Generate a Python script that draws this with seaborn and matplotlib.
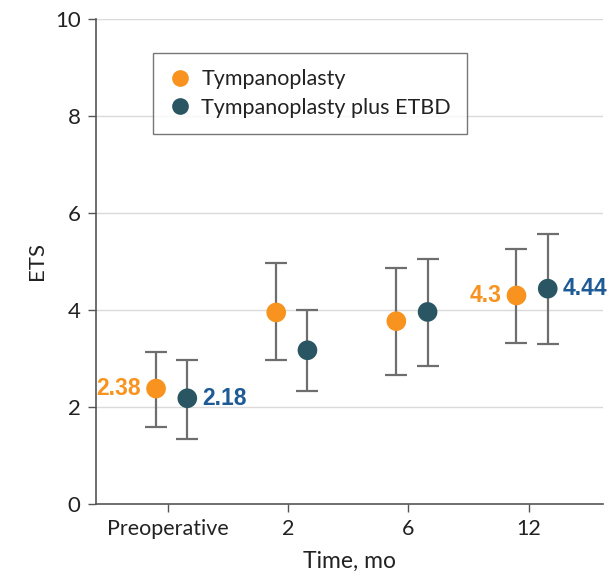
import numpy as np
import pandas as pd
import matplotlib
matplotlib.use("Agg")
import matplotlib.pyplot as plt
import seaborn as sns

# Data
timepoints = ["Preoperative", "2", "6", "12"]
groups = ["Tympanoplasty", "Tympanoplasty plus ETBD"]
ets_tymp = [2.38, 3.95, 3.77, 4.30]
ets_tymp_low = [1.59, 2.97, 2.67, 3.32]
ets_tymp_high = [3.14, 4.97, 4.86, 5.26]
ets_etbd = [2.18, 3.17, 3.96, 4.44]
ets_etbd_low = [1.34, 2.32, 2.85, 3.30]
ets_etbd_high = [2.97, 4.00, 5.05, 5.57]
labelled_points = {"Tympanoplasty": [0, 3], "Tympanoplasty plus ETBD": [0, 3]}

colors = {"Tympanoplasty": "#F7931E", "Tympanoplasty plus ETBD": "#2A5563"}
text_colors = {"Tympanoplasty": "#F7931E", "Tympanoplasty plus ETBD": "#1D5A96"}
offsets = {"Tympanoplasty": -0.10, "Tympanoplasty plus ETBD": 0.16}

rows = []
for g, vals, lo, hi in [(groups[0], ets_tymp, ets_tymp_low, ets_tymp_high),
                        (groups[1], ets_etbd, ets_etbd_low, ets_etbd_high)]:
    for i, t in enumerate(timepoints):
        rows.append({"group": g, "time": t, "idx": i, "x": i + offsets[g],
                     "ets": vals[i], "low": lo[i], "high": hi[i]})
df = pd.DataFrame(rows)

sns.set_style("white")
plt.rcParams["font.family"] = ["Lato", "DejaVu Sans"]

fig = plt.figure(figsize=(6.12, 5.8), dpi=100)
ax = fig.add_axes([96 / 612, 1 - 504 / 580, (603 - 96) / 612, (504 - 19) / 580])

ax.set_ylim(0, 10)
ax.set_xlim(-0.6, 3.62)
ax.set_yticks([0, 2, 4, 6, 8, 10])
for yv in [2, 4, 6, 8, 10]:
    ax.axhline(yv, color="#DADADA", lw=1.0, zorder=0)

for g in groups:
    sub = df[df["group"] == g]
    ax.errorbar(sub["x"], sub["ets"],
                yerr=[sub["ets"] - sub["low"], sub["high"] - sub["ets"]],
                fmt="none", ecolor="#6E6E6E", elinewidth=1.6, capsize=8,
                capthick=1.6, zorder=2)

sns.scatterplot(data=df, x="x", y="ets", hue="group", hue_order=groups,
                palette=colors, s=200, edgecolor="none", ax=ax, zorder=3,
                legend=True)

# Value annotations
for g in groups:
    sub = df[df["group"] == g]
    for i in labelled_points[g]:
        r = sub[sub["idx"] == i].iloc[0]
        if g == groups[0]:
            ax.annotate(f"{r['ets']:g}", (r["x"], r["ets"]), xytext=(-11, 0),
                        textcoords="offset points", ha="right", va="center",
                        color=text_colors[g], fontsize=16.5, fontweight="bold",
                        family=["Liberation Sans", "DejaVu Sans"])
        else:
            ax.annotate(f"{r['ets']:g}", (r["x"], r["ets"]), xytext=(11, 0),
                        textcoords="offset points", ha="left", va="center",
                        color=text_colors[g], fontsize=16.5, fontweight="bold",
                        family=["Liberation Sans", "DejaVu Sans"])

ax.set_xticks(range(len(timepoints)))
ax.set_xticklabels(timepoints)
ax.set_xlabel("Time, mo", fontsize=16.5, labelpad=8, color="#222222")
ax.set_ylabel("ETS", fontsize=16, labelpad=6, color="#222222")
ax.tick_params(axis="both", labelsize=16, colors="#222222", length=6,
               width=1, direction="out", pad=5, color="#555555")
ax.tick_params(axis="y", left=True)
ax.tick_params(axis="x", bottom=True, labelsize=15.5)

sns.despine(ax=ax)
for s in ["left", "bottom"]:
    ax.spines[s].set_color("#555555")
    ax.spines[s].set_linewidth(1.2)

leg = ax.legend(loc="upper left", bbox_to_anchor=(0.112, 0.93), frameon=True,
                fancybox=False, edgecolor="#555555", fontsize=15.5,
                handletextpad=0.5, borderpad=0.75, labelspacing=0.4,
                markerscale=0.85, borderaxespad=0, handlelength=1.0)
leg.get_frame().set_linewidth(1.0)
for t in leg.get_texts():
    t.set_color("#222222")

fig.savefig("out.png", dpi=100)
